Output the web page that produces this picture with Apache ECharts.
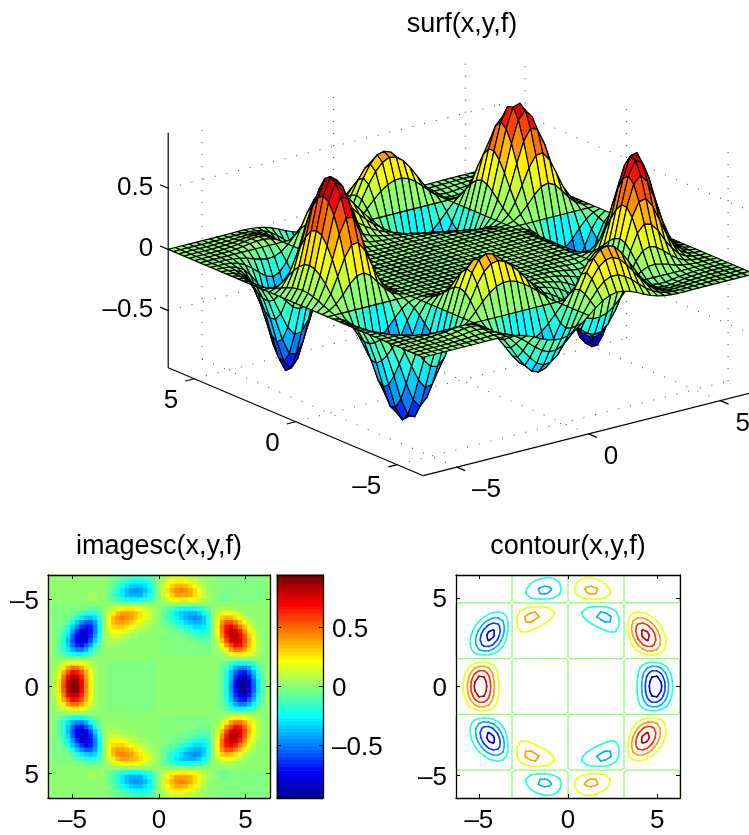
<!DOCTYPE html>
<html><head><meta charset="utf-8">
<script src="https://cdn.jsdelivr.net/npm/echarts@6/dist/echarts.min.js"></script>
<style>html,body{margin:0;padding:0;background:#fff}#c{width:749px;height:835px}</style>
</head><body><div id="c"></div>
<script>
// f, in thousandths, for x >= 0 (columns) and y >= 0 (rows), step pi/12.
// The picture is odd in x and even in y.
const QUADRANT = [
[0,1,1,1,1,1,1,1,1,1,2,3,0,-20,-84,-223,-449,-714,-920,-965,-819,-551,-281,-91,0],
[0,1,1,1,1,1,1,1,1,1,2,3,0,-20,-84,-220,-439,-695,-892,-931,-789,-530,-269,-87,0],
[0,1,1,1,1,1,1,1,1,1,2,3,0,-20,-81,-208,-409,-640,-807,-834,-698,-463,-234,-75,0],
[0,1,1,1,1,1,1,1,1,1,2,3,0,-19,-74,-185,-355,-540,-672,-680,-560,-368,-183,-59,0],
[0,1,1,1,1,1,1,1,1,1,2,3,0,-17,-61,-147,-272,-401,-485,-480,-385,-248,-120,-38,0],
[0,1,1,1,1,1,1,1,1,1,2,2,0,-11,-38,-87,-153,-219,-255,-244,-192,-119,-57,-17,0],
[0,0,0,0,0,0,0,0,0,0,0,0,0,0,0,0,0,0,0,0,0,0,0,0,0],
[0,-1,-1,-1,-1,-1,-1,-1,-2,-3,-5,-5,0,18,58,117,186,240,257,228,166,97,44,13,0],
[0,-1,-1,-1,-1,-1,-2,-4,-7,-12,-17,-17,0,47,136,261,390,478,485,413,288,162,70,20,0],
[0,-1,-1,-1,-2,-4,-6,-12,-20,-32,-40,-36,0,87,234,419,588,680,658,530,352,190,80,21,0],
[0,-1,-2,-4,-7,-12,-20,-33,-50,-69,-81,-66,0,136,338,565,745,812,742,569,360,188,74,19,0],
[0,-3,-7,-12,-20,-32,-50,-76,-109,-133,-142,-106,0,186,427,669,831,849,731,532,322,161,60,15,0],
[0,-9,-18,-32,-50,-75,-110,-150,-195,-223,-219,-150,0,225,485,705,819,787,645,442,260,120,44,10,0],
[0,-20,-43,-72,-109,-149,-203,-252,-305,-324,-293,-186,0,240,482,656,716,648,499,325,180,79,28,6,0],
[0,-39,-81,-129,-184,-247,-312,-372,-409,-404,-338,-198,0,223,418,532,544,466,338,209,109,46,15,3,0],
[0,-59,-120,-185,-254,-324,-392,-437,-452,-419,-327,-179,0,176,308,368,352,287,194,116,56,24,7,1,0],
[0,-68,-136,-205,-272,-331,-378,-401,-390,-340,-248,-129,0,111,181,204,184,140,92,51,23,9,3,1,0],
[0,-50,-99,-145,-186,-219,-239,-240,-222,-182,-126,-61,0,47,72,77,65,48,28,15,7,2,1,1,0],
[0,0,0,0,0,0,0,0,0,0,0,0,0,0,0,0,0,0,0,0,0,0,0,0,0],
[0,67,129,182,222,244,247,228,192,142,88,38,0,-23,-32,-31,-24,-15,-9,-4,-2,-1,-1,-1,0],
[0,123,233,324,385,413,400,357,288,204,120,50,0,-28,-36,-33,-23,-14,-8,-3,-1,-1,-1,-1,0],
[0,142,268,368,428,444,422,362,280,190,109,43,0,-21,-27,-24,-15,-9,-5,-2,-1,-1,-1,-1,0],
[0,125,234,316,360,368,338,281,210,138,74,28,0,-13,-15,-12,-8,-4,-2,-1,-1,-1,-1,-1,0],
[0,87,162,219,243,243,217,177,126,79,42,15,0,-6,-7,-5,-4,-2,-1,-1,-1,-1,-1,-1,0],
[0,49,92,120,134,128,112,89,61,37,19,6,0,-3,-3,-2,-1,-1,-1,-1,-1,-1,-1,-1,0]
];
const XY_TICKS = [-5, 0, 5];
const Z_TICKS = [-0.5, 0, 0.5];
const CONTOUR_LEVELS = [-0.8, -0.6, -0.4, -0.2, 0, 0.2, 0.4, 0.6, 0.8];
const CLIM = 0.945;
const TITLES = ['surf(x,y,f)', 'imagesc(x,y,f)', 'contour(x,y,f)'];

const FONT = 'Liberation Sans', FS = 26, TFS = 27;
const PI = Math.PI, STEP = PI / 12, XMAX = 2 * PI, XMIN = -XMAX, ZMIN = -0.967, ZMAX = 0.953;
const N = 49, MID = 24;
const GRID = Array.from({length: N}, (_, i) => XMIN + i * STEP);
// full table: F[row y][col x]
const F = GRID.map((_, r) => GRID.map((_, c) => {
  const i = c - MID, j = r - MID;
  return (i < 0 ? -1 : 1) * QUADRANT[Math.abs(j)][Math.abs(i)] / 1000;
}));

function u(t) { return t < 1 || t > 47 ? 0 : t <= 16 ? t / 16 : t <= 31 ? 1 : (48 - t) / 16; }
function jet(k) { // k = 1..64
  const c = [u(k - 24), u(k - 8), u(k + 8)].map(v => Math.round(v * 255));
  return 'rgb(' + c.join(',') + ')';
}
function colorOf(v) {
  let k = Math.floor((v + CLIM) / (2 * CLIM) * 64) + 1;
  return jet(Math.max(1, Math.min(64, k)));
}
const fmt = v => String(v).replace('-', '\u2013');

// fixed 3-D view as an affine projection into the hidden screen-sized axes
function project(x, y, z) {
  const a = x - XMIN, b = y - XMIN;
  return [423.3 + a * 26.33 - b * 20.3, 475.7 - a * 6.65 - b * 8.59 - (z - ZMIN) * 122.4];
}

// 3-D frame pieces: [x1,y1,z1,x2,y2,z2,dotted]
const frame = [];
XY_TICKS.forEach(t => {
  frame.push([t, XMIN, ZMIN, t, XMAX, ZMIN, 1]);     // floor
  frame.push([XMIN, t, ZMIN, XMAX, t, ZMIN, 1]);
  frame.push([t, XMAX, ZMIN, t, XMAX, ZMAX, 1]);     // back walls
  frame.push([XMAX, t, ZMIN, XMAX, t, ZMAX, 1]);
  frame.push([t, XMIN, ZMIN, t, XMIN - 0.4, ZMIN, 0]);  // x ticks
  frame.push([XMIN, t, ZMIN, XMIN - 0.34, t, ZMIN, 0]); // y ticks
});
Z_TICKS.forEach(t => {
  frame.push([XMIN, XMAX, t, XMAX, XMAX, t, 1]);
  frame.push([XMAX, XMIN, t, XMAX, XMAX, t, 1]);
  frame.push([XMIN, XMAX, t, XMIN, XMAX + 0.4, t, 0]);  // z ticks
});
frame.push([XMIN, XMAX, ZMIN, XMIN, XMAX, ZMAX, 0]);
frame.push([XMIN, XMAX, ZMIN, XMIN, XMIN, ZMIN, 0]);
frame.push([XMIN, XMIN, ZMIN, XMAX, XMIN, ZMIN, 0]);

// 3-D tick labels: [x,y,z,text,align,dx,dy]
const labels3d = [];
XY_TICKS.forEach(t => {
  labels3d.push([t, XMIN, ZMIN, fmt(t), 'left', 15, 23]);
  labels3d.push([XMIN, t, ZMIN, fmt(t), 'right', -16, 22]);
});
Z_TICKS.forEach(t => labels3d.push([XMIN, XMAX, t, fmt(t), 'right', -15, -0.5]));

// faces back to front
const faces = [];
for (let c = N - 2; c >= 0; c--) for (let r = N - 2; r >= 0; r--) faces.push([c, r]);

// image cells
const cells = [];
for (let r = 0; r < N; r++) for (let c = 0; c < N; c++) cells.push([GRID[c], GRID[r], F[r][c]]);

// contour segments by marching squares
const segments = [];
CONTOUR_LEVELS.forEach((L, li) => {
  for (let r = 0; r < N - 1; r++) for (let c = 0; c < N - 1; c++) {
    const cs = [[c, r], [c + 1, r], [c + 1, r + 1], [c, r + 1]];
    const vals = cs.map(q => F[q[1]][q[0]]);
    const at = q => [GRID[q[0]], GRID[q[1]]];
    // at a crossing of two zero lines keep the corner tight instead of cutting the whole cell
    if (L === 0 && vals.filter(v => v === 0).length === 3 && vals.some(v => v < 0)) {
      const n = vals.findIndex(v => v < 0);
      const o = at(cs[(n + 2) % 4]), b = at(cs[(n + 1) % 4]), d = at(cs[(n + 3) % 4]);
      const p1 = [b[0] + (o[0] - b[0]) * 0.5, b[1] + (o[1] - b[1]) * 0.5];
      const p2 = [d[0] + (o[0] - d[0]) * 0.5, d[1] + (o[1] - d[1]) * 0.5];
      segments.push([b[0], b[1], p1[0], p1[1], li], [p1[0], p1[1], p2[0], p2[1], li], [p2[0], p2[1], d[0], d[1], li]);
      continue;
    }
    const pts = [];
    for (let e = 0; e < 4; e++) {
      const p = cs[e], q = cs[(e + 1) % 4];
      const a = vals[e], b = vals[(e + 1) % 4];
      if ((a >= L) !== (b >= L)) {
        const t = (L - a) / (b - a);
        pts.push([GRID[p[0]] + (GRID[q[0]] - GRID[p[0]]) * t, GRID[p[1]] + (GRID[q[1]] - GRID[p[1]]) * t]);
      }
    }
    if (pts.length >= 2) segments.push([pts[0][0], pts[0][1], pts[1][0], pts[1][1], li]);
    if (pts.length === 4) segments.push([pts[2][0], pts[2][1], pts[3][0], pts[3][1], li]);
  }
});

// colour bar
const barCells = Array.from({length: 64}, (_, k) => [k + 1]);

function title(text, left, top) {
  return {text, left, top, padding: 0, textAlign: 'center',
    textStyle: {fontFamily: FONT, fontSize: TFS, fontWeight: 'normal', color: '#000', lineHeight: TFS}};
}
function axis(gridIndex, position, min, max, ticks, labeled, extra) {
  const vertical = position === 'left' || position === 'right';
  const textFont = {fontFamily: FONT, fontSize: FS, color: '#000'};
  return Object.assign({
    type: 'value', gridIndex, position, min, max, z: 10, splitLine: {show: false},
    axisLine: {show: true, onZero: false, lineStyle: {color: '#000', width: 1.3}},
    axisTick: {show: !!ticks, inside: true, length: 4, lineStyle: {color: '#000', width: 1}, customValues: ticks || undefined},
    axisLabel: Object.assign({show: !!labeled, margin: vertical ? 9 : 10, customValues: ticks || undefined,
      formatter: vertical ? (v => '{a|' + fmt(v) + '}') : fmt, hideOverlap: false,
      rich: vertical ? {a: Object.assign({padding: [5, 0, 0, 0], lineHeight: FS}, textFont)} : undefined,
      showMinLabel: true, showMaxLabel: true}, textFont)
  }, extra || {});
}
const D = STEP / 2;

const option = {
  animation: false,
  backgroundColor: '#fff',
  title: [title(TITLES[0], 462, 11), title(TITLES[1], 159, 533), title(TITLES[2], 568, 533)],
  grid: [
    {left: 0, top: 0, width: 749, height: 835},
    {left: 48, top: 575, width: 222, height: 223},
    {left: 277, top: 575, width: 46, height: 223},
    {left: 456, top: 575, width: 224, height: 223}
  ],
  xAxis: [
    {type: 'value', gridIndex: 0, show: false, min: 0, max: 749},
    axis(1, 'bottom', XMIN - D, XMAX + D, XY_TICKS, true),
    axis(1, 'top', XMIN - D, XMAX + D, XY_TICKS, false),
    axis(2, 'bottom', 0, 1, null, false),
    axis(2, 'top', 0, 1, null, false),
    axis(3, 'bottom', XMIN, XMAX, XY_TICKS, true),
    axis(3, 'top', XMIN, XMAX, XY_TICKS, false)
  ],
  yAxis: [
    {type: 'value', gridIndex: 0, show: false, min: 0, max: 835, inverse: true},
    axis(1, 'left', XMIN - D, XMAX + D, XY_TICKS, true, {inverse: true}),
    axis(1, 'right', XMIN - D, XMAX + D, XY_TICKS, false, {inverse: true}),
    axis(2, 'left', -CLIM, CLIM, Z_TICKS, false),
    axis(2, 'right', -CLIM, CLIM, Z_TICKS, true),
    axis(3, 'left', XMIN, XMAX, XY_TICKS, true),
    axis(3, 'right', XMIN, XMAX, XY_TICKS, false)
  ],
  series: [
    { // 3-D frame and dotted grid
      type: 'custom', coordinateSystem: 'cartesian2d', xAxisIndex: 0, yAxisIndex: 0, clip: false, silent: true,
      progressive: 0, data: frame, z: 2,
      renderItem(p, api) {
        const a = api.coord(project(api.value(0), api.value(1), api.value(2)));
        const b = api.coord(project(api.value(3), api.value(4), api.value(5)));
        const dotted = api.value(6) === 1;
        return {type: 'line', shape: {x1: a[0], y1: a[1], x2: b[0], y2: b[1]},
          style: {stroke: dotted ? '#222' : '#000', lineWidth: dotted ? 0.9 : 1.2, lineDash: dotted ? [1, 11] : null, fill: null}};
      }
    },
    { // surface
      type: 'custom', coordinateSystem: 'cartesian2d', xAxisIndex: 0, yAxisIndex: 0, clip: false, silent: true,
      progressive: 0, data: faces, z: 3,
      renderItem(p, api) {
        const c = api.value(0), r = api.value(1);
        const corners = [[c, r], [c + 1, r], [c + 1, r + 1], [c, r + 1]];
        const points = corners.map(q => api.coord(project(GRID[q[0]], GRID[q[1]], F[q[1]][q[0]])));
        return {type: 'polygon', shape: {points},
          style: {fill: colorOf(F[r][c]), stroke: '#000', lineWidth: 1.2, lineJoin: 'round'}};
      }
    },
    { // 3-D tick labels
      type: 'custom', coordinateSystem: 'cartesian2d', xAxisIndex: 0, yAxisIndex: 0, clip: false, silent: true,
      progressive: 0, z: 4,
      data: labels3d.map((l, i) => [i]),
      renderItem(p, api) {
        const l = labels3d[api.value(0)];
        const a = api.coord(project(l[0], l[1], l[2]));
        return {type: 'text', x: a[0] + l[5], y: a[1] + l[6],
          style: {text: l[3], fill: '#000', font: FS + 'px "' + FONT + '"', align: l[4], verticalAlign: 'middle'}};
      }
    },
    { // imagesc
      type: 'custom', coordinateSystem: 'cartesian2d', xAxisIndex: 1, yAxisIndex: 1, silent: true,
      progressive: 0, data: cells, z: 2,
      renderItem(p, api) {
        const x = api.value(0), y = api.value(1);
        const a = api.coord([x - D, y - D]), b = api.coord([x + D, y + D]);
        const col = colorOf(api.value(2));
        return {type: 'rect', shape: {x: a[0], y: a[1], width: b[0] - a[0], height: b[1] - a[1]},
          style: {fill: col, stroke: col, lineWidth: 0.8}};
      }
    },
    { // colour bar
      type: 'custom', coordinateSystem: 'cartesian2d', xAxisIndex: 3, yAxisIndex: 3, silent: true,
      progressive: 0, data: barCells, z: 2,
      renderItem(p, api) {
        const k = api.value(0);
        const a = api.coord([0, -CLIM + (k - 1) * 2 * CLIM / 64]), b = api.coord([1, -CLIM + k * 2 * CLIM / 64]);
        return {type: 'rect', shape: {x: a[0], y: b[1], width: b[0] - a[0], height: a[1] - b[1]},
          style: {fill: jet(k), stroke: jet(k), lineWidth: 0.8}};
      }
    },
    { // contour
      type: 'custom', coordinateSystem: 'cartesian2d', xAxisIndex: 5, yAxisIndex: 5, silent: true,
      progressive: 0, data: segments, z: 2,
      renderItem(p, api) {
        const a = api.coord([api.value(0), api.value(1)]), b = api.coord([api.value(2), api.value(3)]);
        const level = CONTOUR_LEVELS[api.value(4)];
        return {type: 'line', shape: {x1: a[0], y1: a[1], x2: b[0], y2: b[1]},
          style: {stroke: colorOf(level), lineWidth: level === 0 ? 1.2 : 1.6, lineCap: 'round', fill: null}};
      }
    }
  ]
};
const chart = echarts.init(document.getElementById('c'), null, {renderer: 'canvas'});
chart.setOption(option);
</script></body></html>
